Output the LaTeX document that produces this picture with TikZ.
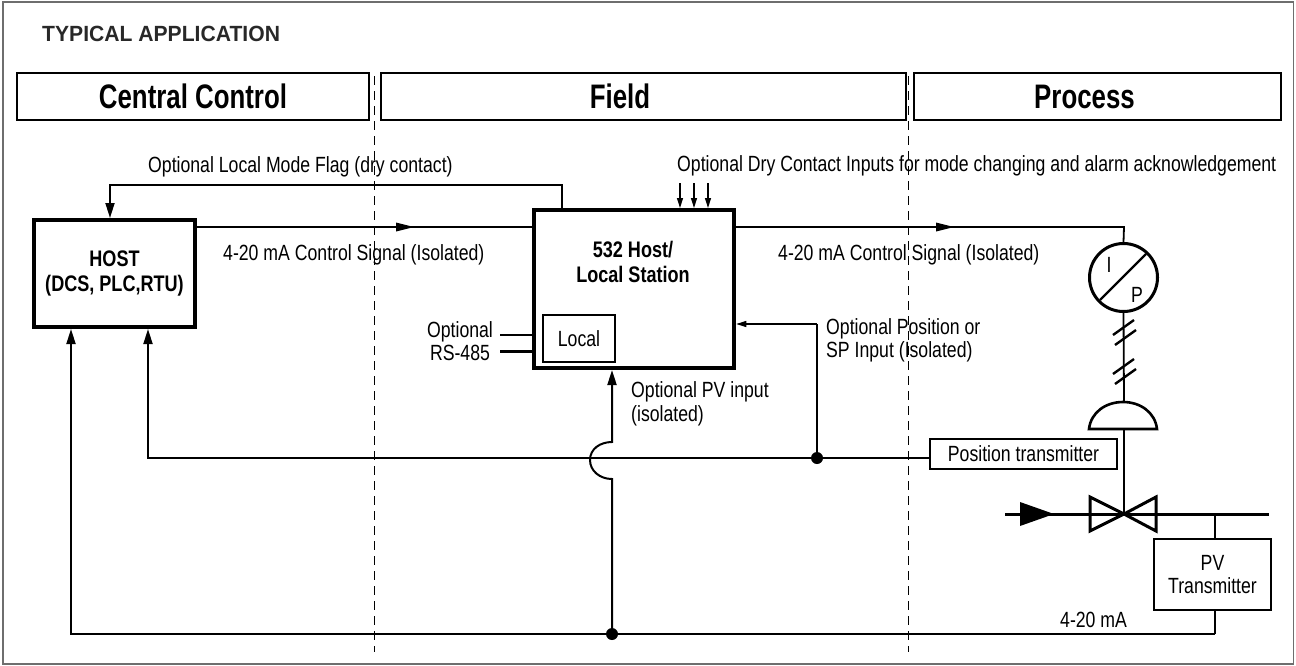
\documentclass[tikz,border=0pt]{standalone}
\usepackage{fontspec}
\setmainfont[FakeStretch=0.803]{Liberation Sans}
\newfontfamily\headfamily[FakeStretch=0.76]{Liberation Sans}
\newfontfamily\titlefamily[FakeStretch=0.96]{Liberation Sans}
\usetikzlibrary{arrows.meta}
\definecolor{myframe}{RGB}{110,110,110}
\definecolor{mytitle}{RGB}{40,40,40}
\newcommand*{\mybodystyle}{\fontsize{22}{23.5}\selectfont}
\newcommand*{\myheadstyle}{\headfamily\fontsize{34}{36}\selectfont\bfseries}
\newcommand*{\myboldstyle}{\fontsize{22.5}{25}\selectfont\bfseries}
\newcommand{\midtip}[2]{%
   % tip of x, height of the wire
   \fill (#1-18,#2-4.5) -- (#1,#2) -- (#1-18,#2+4.5) -- cycle;
}
\newcommand{\slashtick}[2]{%
   % one pair of ticks on the stem, left end of the upper one
   \draw[thick wire] (#1,#2) -- ++(21,-15);
   \draw[thick wire] (#1+2,#2+10) -- ++(21,-15);
}
\tikzset{
   wire/.style       = {line width = 1.8pt},
   thick wire/.style = {line width = 2.4pt},
   tip wire/.style   = {wire, -{Stealth[length = 15pt, width = 9pt, inset = 0pt]}},
   small wire/.style = {line width = 1.3pt, -{Stealth[length = 10pt, width = 6pt, inset = 0pt]}},
   zone line/.style  = {line width = 0.9pt, dash pattern = on 9pt off 6pt},
   headbox/.style    = {draw, line width = 1.8pt, font = \myheadstyle, inner sep = 0pt},
   mainbox/.style    = {draw, line width = 4pt, inner sep = 0pt},
   smallbox/.style   = {draw, line width = 1.8pt, font = \mybodystyle, align = center, inner sep = 0pt},
   lbl/.style        = {font = \mybodystyle, inner sep = 0pt, anchor = west, align = left},
   dot/.style        = {circle, fill, minimum size = 12pt, inner sep = 0pt}
}

\begin{document}
\begin{tikzpicture}[x = 1pt, y = -1pt]
   \useasboundingbox (0,0) rectangle (1296,665);
   \draw[myframe, line width = 1.2pt] (3,2) rectangle (1293.5,664);

   \node at (42,34) [
      lbl,
      font = \titlefamily\fontsize{22}{25}\selectfont\bfseries,
      color = mytitle
   ]{TYPICAL APPLICATION};

   % zones
   \node (central) at (193,96.5) [headbox, minimum width = 352pt, minimum height = 47pt]{Central Control};
   \node (field) at (643.5,96.5) [headbox, minimum width = 525pt, minimum height = 47pt]{Field\kern47pt\relax};
   \node (process) at (1097.5,96.5) [headbox, minimum width = 367pt, minimum height = 47pt]{Process\kern26pt\relax};
   \draw[zone line] (374.5,76) -- (374.5,652);
   \draw[zone line] (908,76) -- (908,652);

   % boxes
   \node (host) at (114.5,273.5) [
      mainbox,
      minimum width  = 161pt,
      minimum height = 107pt,
      font  = \myboldstyle,
      align = center
   ]{HOST\\(DCS, PLC,RTU)};
   \node (station) at (634,289) [mainbox, minimum width = 200.5pt, minimum height = 158pt]{};
   \node (stationlbl) at (633,261.5) [font = \myboldstyle, align = center, inner sep = 0pt]{532 Host/\\Local Station};
   \node (local) at (579,338.5) [smallbox, minimum width = 72pt, minimum height = 47pt]{Local};
   \node (postx) at (1023.5,454) [smallbox, minimum width = 187pt, minimum height = 30pt]{Position transmitter};
   \node (pvtx) at (1212.5,574.5) [smallbox, minimum width = 117pt, minimum height = 71pt]{PV\\Transmitter};
   \node (ip) at (1123.5,277.5) [draw, circle, line width = 3pt, minimum size = 68pt, inner sep = 0pt]{};
   \node (ipi) at (1109,265) [font = \mybodystyle]{I};
   \node (ipp) at (1137,295) [font = \mybodystyle]{P};
   \draw[thick wire] (1100,300) -- (1146,254);

   % free ends
   \coordinate (hostout) at (195,227);
   \coordinate (stationin) at (534,227);
   \coordinate (stationout) at (734,227);
   \coordinate (flagup) at (562,185);
   \coordinate (flagdown) at (110,185);
   \coordinate (jumptop) at (612,442);
   \coordinate (jumpbot) at (612,479);
   \coordinate (busdot) at (612,634);
   \coordinate (posdot) at (817,458);
   \coordinate (posline) at (148,458);
   \coordinate (busleft) at (71,634);
   \coordinate (busright) at (1215,634);
   \coordinate (stemtop) at (1124,227);
   \coordinate (domebot) at (1124,429);
   \coordinate (domeleft) at (1089,429);
   \coordinate (domeright) at (1157,429);
   \coordinate (valve) at (1124,514);

   % wires
   \draw[wire] (hostout) -- (stationin);
   \midtip{414}{227}
   \draw[wire] (stationout) -- (stemtop) -- (ip.north);
   \midtip{954}{227}
   \draw[tip wire] (station.north -| flagup) -- (flagup) -- (flagdown) -- (host.north -| flagdown);
   \draw[tip wire] (posline -| postx.west) -- (posline) -- (host.south -| posline);
   \draw[tip wire] (busright) -- (busleft) -- (host.south -| busleft);
   \draw[wire] (pvtx.south -| busright) -- (busright);
   \draw[tip wire, line width = 2pt] (busdot) -- (jumpbot)
      .. controls (600,479) and (590,471) .. (590,460)
      .. controls (590,449) and (600,442) .. (jumptop)
      -- (station.south -| jumptop);
   \draw[wire] (posdot) -- (817,324);
   \draw[small wire] (817,324) -- (station.east |- 0,324);
   \draw[wire] (500,335) -- (532,335);
   \draw[thick wire] (500,351.5) -- (532,351.5);
   \foreach \inx in {680,694,708}
      \draw[small wire] (\inx,183) -- (\inx,208);
   \node (busdotn) at (busdot) [dot]{};
   \node (posdotn) at (posdot) [dot]{};

   % actuator and valve
   \draw[wire] (ip.south) -- (domebot |- 0,402);
   \slashtick{1113}{335}
   \slashtick{1113}{374}
   \draw[thick wire, line width = 2.6pt, fill = white] (domeleft)
      .. controls (1091,412) and (1106,402) .. (1123,402)
      .. controls (1140,402) and (1155,412) .. (domeright) -- cycle;
   \draw[wire] (domebot) -- (valve);
   \draw[line width = 3pt] (1005,514) -- (1269,514);
   \fill (1020,502) -- (1054,514) -- (1020,526) -- cycle;
   \draw[line width = 3pt, line join = miter] (valve) -- (1090,497) -- (1090,531) -- cycle;
   \draw[line width = 3pt, line join = miter] (valve) -- (1156,497) -- (1156,531) -- cycle;
   \draw[wire] (1215,514) -- (pvtx.north -| busright);

   % labels
   \node (flaglbl) at (148,166.5) [lbl]{Optional Local Mode Flag (dry contact)};
   \node (drylbl) at (677,165.5) [lbl]{Optional Dry Contact Inputs for mode changing and alarm acknowledgement};
   \node (sig1lbl) at (223,254.5) [lbl]{4-20 mA Control Signal (Isolated)};
   \node (sig2lbl) at (778,254.5) [lbl]{4-20 mA Control Signal (Isolated)};
   \node (rslbl) at (460,341) [lbl, anchor = center, align = center]{Optional\\RS-485};
   \node (poslbl) at (826,340.5) [lbl]{Optional Position or\\SP Input (Isolated)};
   \node (pvlbl) at (631,404) [lbl]{Optional PV input\\(isolated)};
   \node (malbl) at (1060,620) [lbl]{4-20 mA};
\end{tikzpicture}
\end{document}
